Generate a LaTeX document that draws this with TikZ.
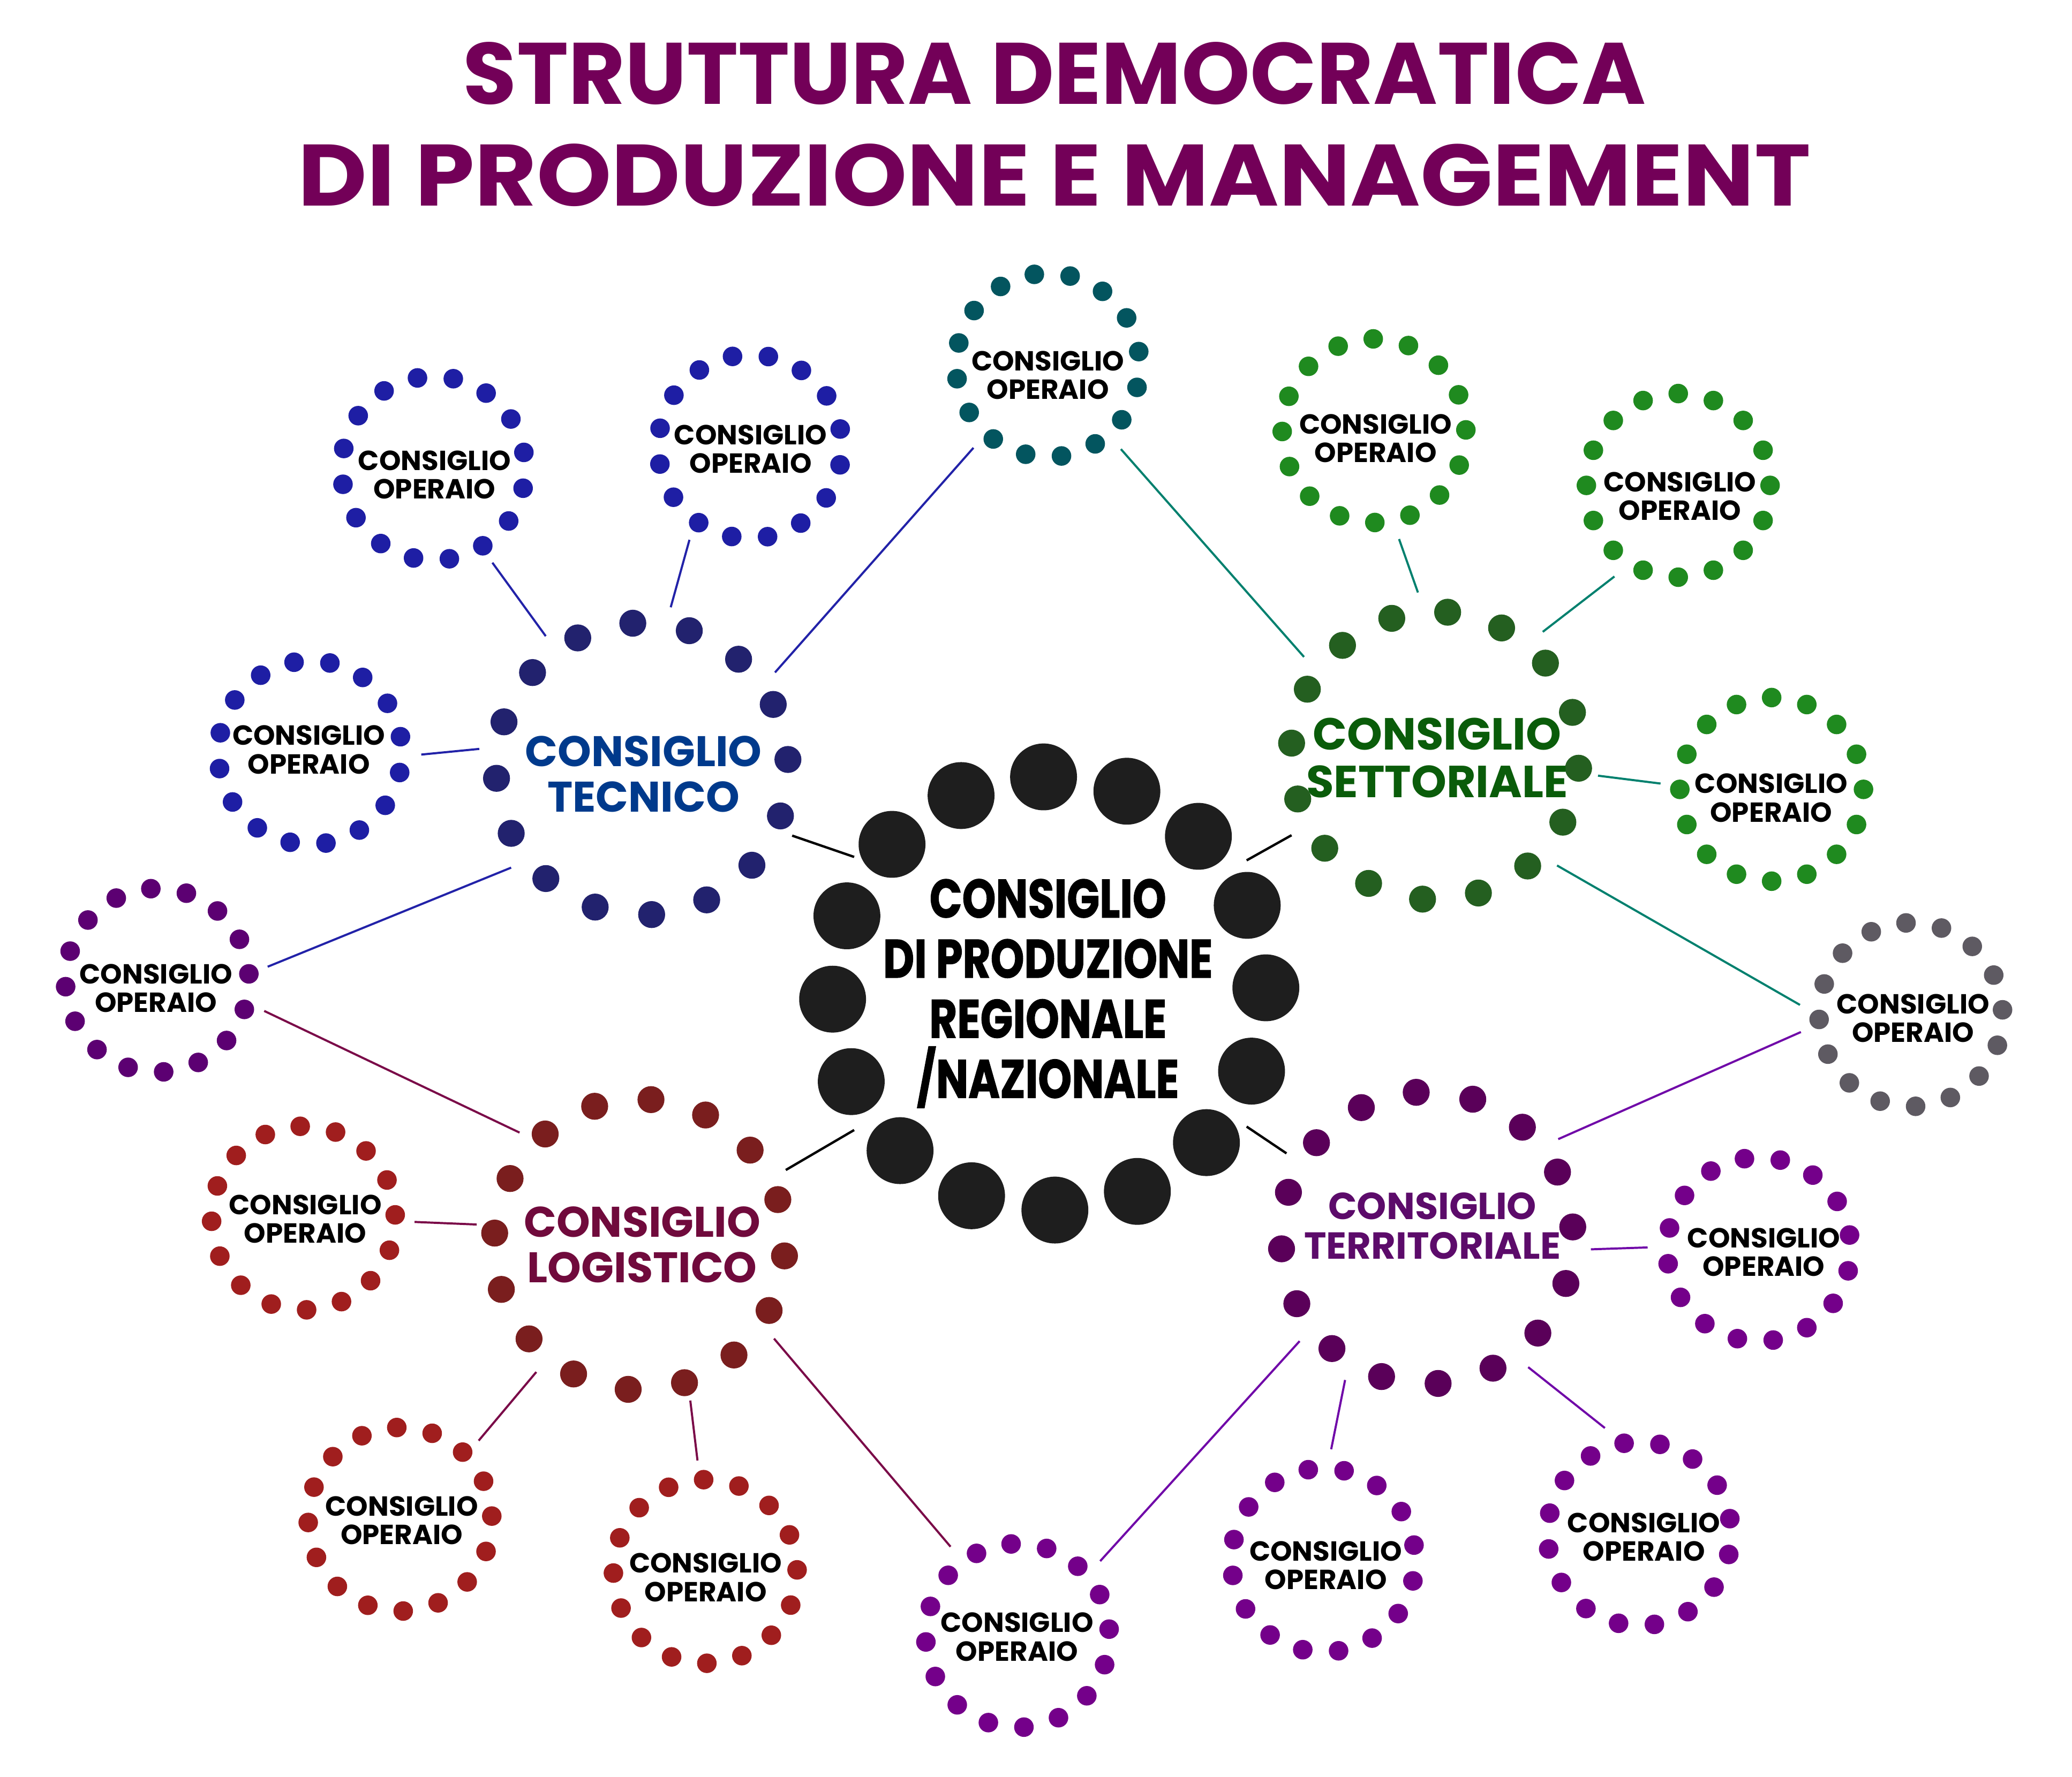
\documentclass[tikz,border=0pt]{standalone}
\usepackage{fontspec}
\setmainfont{Poppins}
\newfontfamily\condfont{Poppins}[FakeStretch=0.79,FakeBold=1.2]
\usepackage{tikz}
\definecolor{titlepurple}{HTML}{730058}
\definecolor{prodblack}{HTML}{1E1E1E}
\definecolor{tecdot}{HTML}{22226E}
\definecolor{tectext}{HTML}{003A8C}
\definecolor{tecline}{HTML}{2222A8}
\definecolor{bluedot}{HTML}{1E1EA4}
\definecolor{tealdot}{HTML}{03555F}
\definecolor{setdot}{HTML}{245F20}
\definecolor{settext}{HTML}{0A5C0A}
\definecolor{setline}{HTML}{00806E}
\definecolor{greendot}{HTML}{1F8A1F}
\definecolor{greydot}{HTML}{5E5A62}
\definecolor{terdot}{HTML}{5A0059}
\definecolor{tertext}{HTML}{5C0B6A}
\definecolor{terline}{HTML}{7008A8}
\definecolor{violetdot}{HTML}{74008A}
\definecolor{plumdot}{HTML}{5C0072}
\definecolor{logdot}{HTML}{7A1E1E}
\definecolor{logtext}{HTML}{700A3C}
\definecolor{logline}{HTML}{7A0A48}
\definecolor{reddot}{HTML}{A01E1E}
% ring of 16 dots round a node: node, ring radius, dot radius, first angle, colour
\newcommand{\ringdots}[5]{\foreach \k in {0,...,15}{\fill[#5] (#1) ++({#4+22.5*\k}:#2pt) circle (#3pt);}}

\begin{document}
\begin{tikzpicture}[
  x=1pt,y=-1pt,
  core/.style={circle,inner sep=0pt,minimum size=360pt},
  hub/.style={circle,inner sep=0pt,minimum size=248pt},
  cell/.style={circle,inner sep=0pt,minimum size=168pt},
  headline/.style={anchor=base,inner sep=0pt,text=titlepurple,font=\bfseries\fontsize{66}{77}\selectfont},
  corename/.style={align=center,inner sep=0pt,font=\condfont\bfseries\fontsize{41}{45.5}\selectfont},
  hubname/.style={align=center,inner sep=0pt,font=\bfseries\fontsize{32.4}{34.5}\selectfont},
  cellname/.style={align=center,inner sep=0pt,font=\bfseries\fontsize{20.9}{21.6}\selectfont},
  link/.style={line width=1.6pt},
  corelink/.style={line width=1.8pt,draw=black}
]
\path[use as bounding box,fill=white] (0,0) rectangle (1568,1345);

\node[headline] (title1) at (798,79) {STRUTTURA DEMOCRATICA};
\node[headline] (title2) at (798,156) {\scalebox{1.09}[1]{DI PRODUZIONE E MANAGEMENT}};

% centres of the rings
\node[core] (prod) at (794,752) {};
\node[hub] (tec) at (486,582) {};
\node[hub] (set) at (1086,572) {};
\node[hub] (log) at (484,942) {};
\node[hub] (ter) at (1080,937) {};
\node[cell] (tec1) at (328,354.5) {};
\node[cell] (tec2) at (567.6,338) {};
\node[cell] (tec3) at (234.6,569.7) {};
\node[cell] (tecset) at (793,276.4) {};
\node[cell] (teclog) at (119,742) {};
\node[cell] (set1) at (1039.8,326) {};
\node[cell] (set2) at (1270,367.4) {};
\node[cell] (set3) at (1340.7,597.5) {};
\node[cell] (setter) at (1446,768) {};
\node[cell] (ter1) at (1331,945.7) {};
\node[cell] (ter2) at (1240.5,1161) {};
\node[cell] (ter3) at (1001.5,1181) {};
\node[cell] (logter) at (770,1238) {};
\node[cell] (log1) at (229.6,922) {};
\node[cell] (log2) at (302.7,1150) {};
\node[cell] (log3) at (533.7,1189.5) {};

% dots
\ringdots{prod}{164}{25.3}{91.5}{prodblack}
\ringdots{tec}{110.5}{10.2}{93.7}{tecdot}
\ringdots{set}{109}{10.2}{85}{setdot}
\ringdots{log}{110}{10.2}{85.5}{logdot}
\ringdots{ter}{110.5}{10.2}{94.3}{terdot}
\ringdots{tec1}{69.5}{7.4}{100}{bluedot}
\ringdots{tec2}{69.5}{7.4}{101}{bluedot}
\ringdots{tec3}{69.5}{7.4}{100}{bluedot}
\ringdots{tecset}{69.5}{7.4}{98.5}{tealdot}
\ringdots{teclog}{69.5}{7.4}{94}{plumdot}
\ringdots{set1}{69.5}{7.4}{90.5}{greendot}
\ringdots{set2}{69.5}{7.4}{90}{greendot}
\ringdots{set3}{69.5}{7.4}{90}{greendot}
\ringdots{setter}{69.5}{7.4}{93}{greydot}
\ringdots{ter1}{69.5}{7.4}{99}{violetdot}
\ringdots{ter2}{69.5}{7.4}{99.5}{violetdot}
\ringdots{ter3}{69.5}{7.4}{99.5}{violetdot}
\ringdots{logter}{69.5}{7.4}{94}{violetdot}
\ringdots{log1}{69.5}{7.4}{92}{reddot}
\ringdots{log2}{69.5}{7.4}{92}{reddot}
\ringdots{log3}{69.5}{7.4}{91}{reddot}

% labels
\node[corename] (prod-txt) at (793,752) {CONSIGLIO\\DI PRODUZIONE\\REGIONALE\\/NAZIONALE};
\node[hubname,text=tectext] (tec-txt) at (487,586) {CONSIGLIO\\TECNICO};
\node[hubname,text=settext,font=\bfseries\fontsize{34}{36}\selectfont] (set-txt) at (1087.5,573.5) {CONSIGLIO\\SETTORIALE};
\node[hubname,text=logtext] (log-txt) at (486,942) {CONSIGLIO\\LOGISTICO};
\node[hubname,text=tertext,font=\bfseries\fontsize{28.5}{30}\selectfont] (ter-txt) at (1084,928) {CONSIGLIO\\TERRITORIALE};
\node[cellname] (tec1-txt) at (328.8,359.5) {CONSIGLIO\\OPERAIO};
\node[cellname] (tec2-txt) at (568,340) {CONSIGLIO\\OPERAIO};
\node[cellname] (tec3-txt) at (233.7,567.5) {CONSIGLIO\\OPERAIO};
\node[cellname] (tecset-txt) at (793,284) {CONSIGLIO\\OPERAIO};
\node[cellname] (teclog-txt) at (118,748) {CONSIGLIO\\OPERAIO};
\node[cellname] (set1-txt) at (1041,331.7) {CONSIGLIO\\OPERAIO};
\node[cellname] (set2-txt) at (1271.3,375.5) {CONSIGLIO\\OPERAIO};
\node[cellname] (set3-txt) at (1340.4,604) {CONSIGLIO\\OPERAIO};
\node[cellname] (setter-txt) at (1447.7,770.6) {CONSIGLIO\\OPERAIO};
\node[cellname] (ter1-txt) at (1334.7,947.7) {CONSIGLIO\\OPERAIO};
\node[cellname] (ter2-txt) at (1244,1163.5) {CONSIGLIO\\OPERAIO};
\node[cellname] (ter3-txt) at (1003.3,1185) {CONSIGLIO\\OPERAIO};
\node[cellname] (logter-txt) at (769.6,1239) {CONSIGLIO\\OPERAIO};
\node[cellname] (log1-txt) at (231,922.6) {CONSIGLIO\\OPERAIO};
\node[cellname] (log2-txt) at (304,1151) {CONSIGLIO\\OPERAIO};
\node[cellname] (log3-txt) at (534,1194) {CONSIGLIO\\OPERAIO};

% links
\draw[link,tecline] (tec.126) -- (tec1.-58.6);
\draw[link,tecline] (tec.80.2) -- (tec2.-123.8);
\draw[link,tecline] (tec.36) -- (tecset.-132.7);
\draw[link,tecline] (tec.173.8) -- (tec3.-1.8);
\draw[link,tecline] (tec.-143.1) -- (teclog.7.2);
\draw[corelink] (tec.-24.9) -- (prod.145.5);
\draw[link,setline] (set.143.2) -- (tecset.-49.7);
\draw[link,setline] (set.96.5) -- (set1.-77.3);
\draw[link,setline] (set.49.7) -- (set2.-125.5);
\draw[link,setline] (set.-7.1) -- (set3.177.6);
\draw[link,setline] (set.-42.8) -- (setter.175.6);
\draw[corelink] (set.-151.2) -- (prod.34.1);
\draw[link,terline] (ter.37.4) -- (setter.-171.5);
\draw[link,terline] (ter.-4.2) -- (ter1.179);
\draw[link,terline] (ter.-52.4) -- (ter2.108);
\draw[link,terline] (ter.-120.7) -- (ter3.86.4);
\draw[link,terline] (ter.-141.6) -- (logter.42.7);
\draw[corelink] (ter.149.5) -- (prod.-34.5);
\draw[link,logline] (log.137.2) -- (teclog.-16.2);
\draw[link,logline] (log.173.8) -- (log1.-2.7);
\draw[link,logline] (log.-129) -- (log2.45.7);
\draw[link,logline] (log.-72.4) -- (log3.94);
\draw[link,logline] (log.-35.2) -- (logter.127.8);
\draw[corelink] (log.27.2) -- (prod.-145.8);
\end{tikzpicture}
\end{document}
